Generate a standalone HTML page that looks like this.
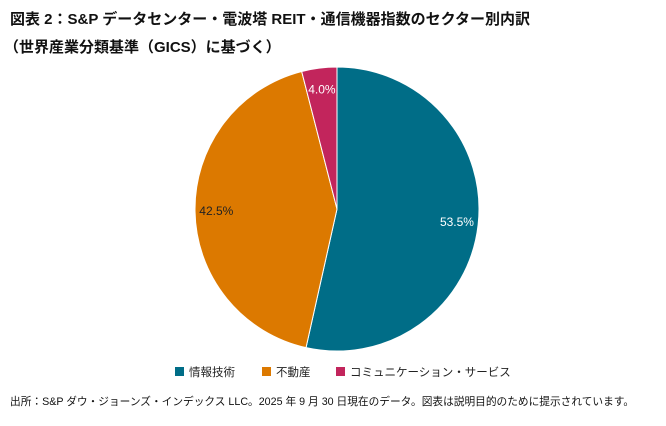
<!DOCTYPE html>
<html><head><meta charset="utf-8"><style>
body{margin:0;width:666px;height:426px;background:#fff;font-family:"Liberation Sans","Noto Sans CJK JP",sans-serif;overflow:hidden;position:relative}
.t{position:absolute;left:10px;font-weight:bold;font-size:15px;color:#111}
.f{position:absolute;left:10px;top:394px;font-size:10.7px;color:#111}
</style></head><body>
<div class="t" style="top:8px">図表 2：S&amp;P データセンター・電波塔 REIT・通信機器指数のセクター別内訳</div>
<div class="t" style="top:36px;left:4px">（世界産業分類基準（GICS）に基づく）</div>
<svg id="c" width="666" height="426" style="position:absolute;left:0;top:0"></svg>
<div class="f">出所：S&amp;P ダウ・ジョーンズ・インデックス LLC。2025 年 9 月 30 日現在のデータ。図表は説明目的のために提示されています。</div>
<script>
const categories=["情報技術","不動産","コミュニケーション・サービス"];
const values=[53.5,42.5,4.0];
const colors=["#006D87","#DC7900","#C2255C"];
const svg=document.getElementById('c');
const NS="http://www.w3.org/2000/svg";
const cx=337,cy=209,r=142;
const total=values.reduce((a,b)=>a+b,0);
let a0=0;
values.forEach((v,i)=>{
  const a1=a0+v/total*2*Math.PI;
  const p=document.createElementNS(NS,'path');
  const x0=cx+r*Math.sin(a0),y0=cy-r*Math.cos(a0),x1=cx+r*Math.sin(a1),y1=cy-r*Math.cos(a1);
  p.setAttribute('d',`M${cx},${cy}L${x0},${y0}A${r},${r} 0 ${a1-a0>Math.PI?1:0} 1 ${x1},${y1}Z`);
  p.setAttribute('fill',colors[i]);p.setAttribute('stroke','#fff');p.setAttribute('stroke-width','1');
  
  
  svg.appendChild(p);
  const am=(a0+a1)/2,lr=r*0.85;
  const t=document.createElementNS(NS,'text');
  t.setAttribute('x',cx+lr*Math.sin(am));t.setAttribute('y',cy-lr*Math.cos(am)+4);
  t.setAttribute('text-anchor','middle');t.setAttribute('font-size','12');
  t.setAttribute('fill',i==1?'#222':'#fff');
  t.textContent=v.toFixed(1)+'%';
  
  
  svg.appendChild(t);
  a0=a1;
});
const lx=[175,262,336];
categories.forEach((c,i)=>{
  const g=document.createElementNS(NS,'g');
  
  
  const rc=document.createElementNS(NS,'rect');
  rc.setAttribute('x',lx[i]);rc.setAttribute('y',367);rc.setAttribute('width',9);rc.setAttribute('height',9);rc.setAttribute('fill',colors[i]);
  const t=document.createElementNS(NS,'text');
  t.setAttribute('x',lx[i]+14);t.setAttribute('y',376);t.setAttribute('font-size','11.5');t.setAttribute('fill','#222');
  t.textContent=c;
  g.appendChild(rc);g.appendChild(t);svg.appendChild(g);
});
</script>
</body></html>
